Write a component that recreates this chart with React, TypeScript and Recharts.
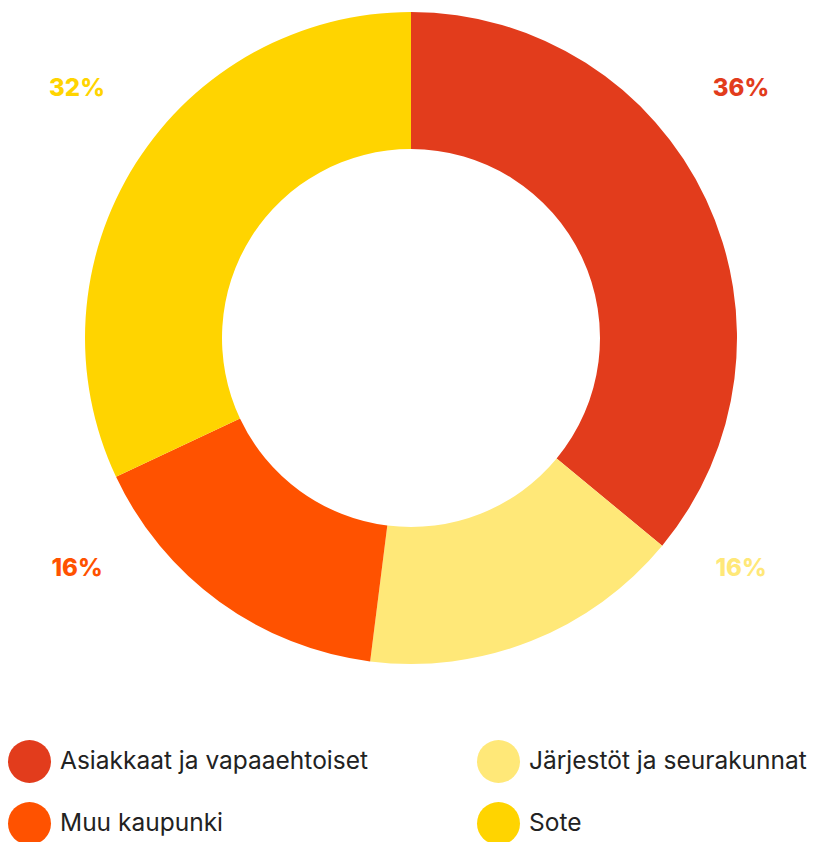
import React from "react";
import { PieChart, Pie, Cell } from "recharts";

const categories = ["Asiakkaat ja vapaaehtoiset", "Järjestöt ja seurakunnat", "Muu kaupunki", "Sote"];
const values = [36, 16, 16, 32];
const colors = ["#E23C1C", "#FFE878", "#FF5200", "#FFD400"];
const legendOrder = [0, 1, 2, 3];

const data = categories.map((name, i) => ({ name, value: values[i] }));

const RAD = Math.PI / 180;

const renderLabel = (props: any) => {
  const { cx, cy, midAngle, index, value } = props;
  const cos = Math.cos(-midAngle * RAD);
  const sin = Math.sin(-midAngle * RAD);
  const right = cos >= 0;
  const top = sin < 0;
  const x = right ? cx + 330 : cx - 334;
  const y = top ? cy - 251 : cy + 229;
  return (
    <text
      x={x}
      y={y}
      fill={colors[index]}
      textAnchor="middle"
      dominantBaseline="central"
      fontFamily="Inter, sans-serif"
      fontWeight={800}
      fontSize={24}
    >
      {`${value}%`}
    </text>
  );
};

export default function App() {
  return (
    <div style={{ position: "absolute", left: 0, top: 0, width: 814, height: 842, background: "#fff" }}>
      <PieChart width={814} height={700} margin={{ top: 0, right: 0, bottom: 0, left: 0 }}>
        <Pie
          data={data}
          dataKey="value"
          nameKey="name"
          cx={411}
          cy={338}
          innerRadius={189}
          outerRadius={326}
          startAngle={90}
          endAngle={-270}
          stroke="none"
          label={renderLabel}
          labelLine={false}
          isAnimationActive={false}
        >
          {data.map((d, i) => (
            <Cell key={d.name} fill={colors[i]} />
          ))}
        </Pie>
      </PieChart>
      {legendOrder.map((i, k) => {
        const col = k % 2;
        const row = Math.floor(k / 2);
        const left = col === 0 ? 8 : 477;
        const top = 740 + row * 62;
        return (
          <div
            key={categories[i]}
            style={{
              position: "absolute",
              left,
              top,
              display: "flex",
              alignItems: "center",
              height: 43,
              fontFamily: "Inter, sans-serif",
              fontSize: 24.5,
              color: "#222",
              whiteSpace: "nowrap",
            }}
          >
            <span
              style={{
                display: "inline-block",
                width: 43,
                height: 43,
                borderRadius: "50%",
                background: colors[i],
                marginRight: 9,
              }}
            />
            <span style={{ position: "relative", top: -2 }}>{categories[i]}</span>
          </div>
        );
      })}
    </div>
  );
}
